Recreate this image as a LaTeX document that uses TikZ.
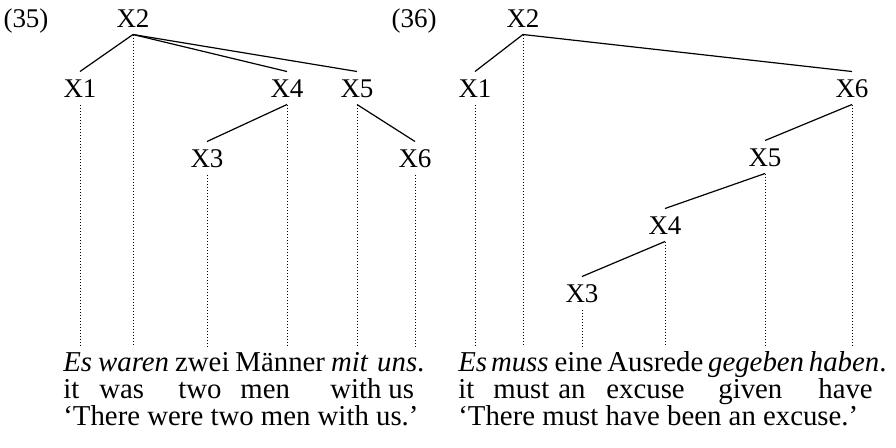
\documentclass[tikz,border=0pt]{standalone}
\usepackage{fontspec}
\setmainfont{Liberation Serif}
\usetikzlibrary{positioning}

\begin{document}
\begin{tikzpicture}[
    x=0.5pt, y=-0.5pt,
    font=\fontsize{13.5}{16}\selectfont,
    cat/.style={inner xsep=0pt, inner ysep=3.5pt, text height=9.1pt, text depth=0pt},
    edge/.style={line width=0.6pt},
    proj/.style={line width=0.5pt, dash pattern=on 0.5pt off 1pt},
    word/.style={anchor=base west, inner sep=0pt, font=\fontsize{14.4}{17}\selectfont}
  ]
    \useasboundingbox (0,0) rectangle (896,447);
    \coordinate (base) at (0,346);
    % (35)
    \node[cat] (ex35) at (26,18) {(35)};
    \node[cat] (a2) at (133,18) {X2};
    \node[cat] (a1) at (80,88) {X1};
    \node[cat] (a4) at (287,88) {X4};
    \node[cat] (a5) at (357,88) {X5};
    \node[cat] (a3) at (207,158) {X3};
    \node[cat] (a6) at (415,158) {X6};
    \draw[edge] (a2.south) -- (a1.north);
    \draw[edge] (a2.south) -- (a4.north);
    \draw[edge] (a2.south) -- (a5.north);
    \draw[edge] (a4.south) -- (a3.north);
    \draw[edge] (a5.south) -- (a6.north);
    \draw[proj] (a1.south) -- (a1.south |- base);
    \draw[proj] (a2.south) -- (a2.south |- base);
    \draw[proj] (a3.south) -- (a3.south |- base);
    \draw[proj] (a4.south) -- (a4.south |- base);
    \draw[proj] (a5.south) -- (a5.south |- base);
    \draw[proj] (a6.south) -- (a6.south |- base);
    \node[word] (es) at (63,371) {\textit{Es}};
    \node[word, right=2.6pt of es.base east, anchor=base west] (waren) {\textit{waren}};
    \node[word, right=2.6pt of waren.base east, anchor=base west] (zwei) {zwei};
    \node[word, right=2.6pt of zwei.base east, anchor=base west] (maenner) {Männer};
    \node[word, right=2.6pt of maenner.base east, anchor=base west] (mit) {\textit{mit}};
    \node[word, right=4pt of mit.base east, anchor=base west] (uns) {\textit{uns}.};
    \node[word] (it) at (63,398) {it};
    \node[word] (was) at (99,398) {was};
    \node[word] (two) at (178,398) {two};
    \node[word] (men) at (240,398) {men};
    \node[word] (with) at (330,398) {with};
    \node[word] (us) at (388,398) {us};
    \node[word] (tr35) at (63,425) {‘There were two men with us.’};
    % (36)
    \node[cat] (ex36) at (414,18) {(36)};
    \node[cat] (b2) at (523,18) {X2};
    \node[cat] (b1) at (475,88) {X1};
    \node[cat] (b6) at (852,88) {X6};
    \node[cat] (b5) at (765,157) {X5};
    \node[cat] (b4) at (665,225) {X4};
    \node[cat] (b3) at (582,293) {X3};
    \draw[edge] (b2.south) -- (b1.north);
    \draw[edge] (b2.south) -- (b6.north);
    \draw[edge] (b6.south) -- (b5.north);
    \draw[edge] (b5.south) -- (b4.north);
    \draw[edge] (b4.south) -- (b3.north);
    \draw[proj] (b1.south) -- (b1.south |- base);
    \draw[proj] (b2.south) -- (b2.south |- base);
    \draw[proj] (b3.south) -- (b3.south |- base);
    \draw[proj] (b4.south) -- (b4.south |- base);
    \draw[proj] (b5.south) -- (b5.south |- base);
    \draw[proj] (b6.south) -- (b6.south |- base);
    \node[word] (es2) at (458,371) {\textit{Es}};
    \node[word, right=1.5pt of es2.base east, anchor=base west] (muss) {\textit{muss}};
    \node[word, right=2.6pt of muss.base east, anchor=base west] (eine) {eine};
    \node[word, right=2pt of eine.base east, anchor=base west] (ausrede) {Ausrede};
    \node[word, right=2pt of ausrede.base east, anchor=base west] (gegeben) {\textit{gegeben}};
    \node[word, right=2pt of gegeben.base east, anchor=base west] (haben) {\textit{haben}.};
    \node[word] (it2) at (458,398) {it};
    \node[word] (must) at (493,398) {must};
    \node[word] (an) at (558,398) {an};
    \node[word] (excuse) at (606,398) {excuse};
    \node[word] (given) at (718,398) {given};
    \node[word] (have) at (818,398) {have};
    \node[word] (tr36) at (458,425) {‘There must have been an excuse.’};
\end{tikzpicture}
\end{document}
